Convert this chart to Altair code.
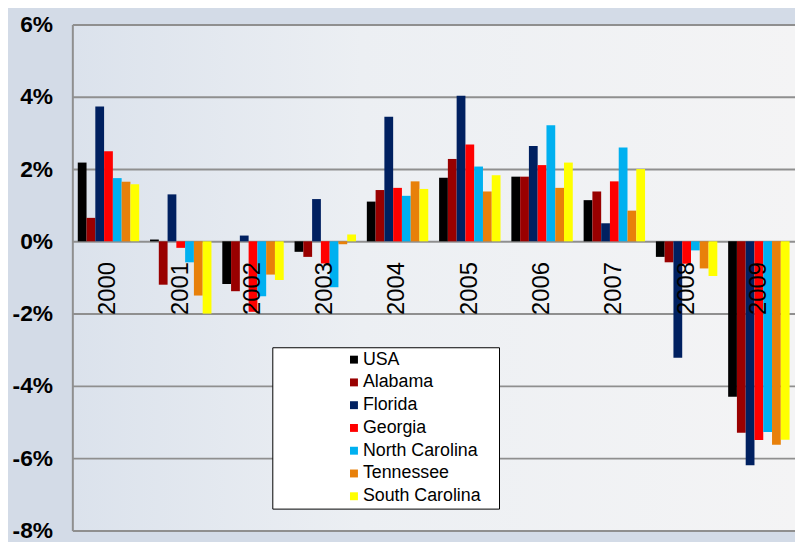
import altair as alt
import pandas as pd

years = ["2000", "2001", "2002", "2003", "2004", "2005", "2006", "2007", "2008", "2009"]
series = ["USA", "Alabama", "Florida", "Georgia", "North Carolina", "Tennessee", "South Carolina"]
colors = ["#000000", "#990000", "#002060", "#ff0000", "#00b0f0", "#e8800a", "#ffff00"]

usa = [2.18, 0.05, -1.18, -0.29, 1.10, 1.76, 1.79, 1.14, -0.43, -4.30]
alabama = [0.65, -1.20, -1.38, -0.43, 1.42, 2.28, 1.79, 1.38, -0.58, -5.30]
florida = [3.73, 1.30, 0.16, 1.17, 3.45, 4.03, 2.64, 0.50, -3.22, -6.20]
georgia = [2.49, -0.18, -1.95, -0.61, 1.48, 2.68, 2.11, 1.66, -0.62, -5.50]
north_carolina = [1.75, -0.58, -1.52, -1.27, 1.26, 2.07, 3.21, 2.60, -0.25, -5.28]
tennessee = [1.65, -1.50, -0.92, -0.08, 1.66, 1.38, 1.48, 0.85, -0.75, -5.63]
south_carolina = [1.58, -2.00, -1.07, 0.19, 1.45, 1.83, 2.18, 2.00, -0.96, -5.49]

y_ticks = [-8, -6, -4, -2, 0, 2, 4, 6]

values = [usa, alabama, florida, georgia, north_carolina, tennessee, south_carolina]
rows = []
for name, vals in zip(series, values):
    for yr, v in zip(years, vals):
        rows.append({"year": yr, "state": name, "value": v})
df = pd.DataFrame(rows)
labels_df = pd.DataFrame({"year": years, "zero": [0] * len(years)})

FONT = "Liberation Sans"

x_enc = alt.X("year:N", sort=years, axis=None,
              scale=alt.Scale(paddingInner=0.15, paddingOuter=0.075))
y_scale = alt.Scale(domain=[-8, 6], nice=False, zero=False)

bars = alt.Chart(df).mark_bar(stroke=None, strokeWidth=0).encode(
    x=x_enc,
    xOffset=alt.XOffset("state:N", sort=series, scale=alt.Scale(paddingInner=0, paddingOuter=0)),
    y=alt.Y("value:Q", scale=y_scale, title=None,
            axis=alt.Axis(values=y_ticks, labelExpr="datum.value + '%'",
                          labelFont=FONT, labelFontSize=23, labelFontWeight="bold",
                          labelColor="#000000", labelPadding=20, ticks=False,
                          domain=True, domainColor="#8f8f8f", domainWidth=2,
                          grid=True, gridColor="#8f8f8f", gridWidth=2)),
    color=alt.Color("state:N", sort=series,
                    scale=alt.Scale(domain=series, range=colors),
                    legend=alt.Legend(title="\u00a0", titleOrient="right", titlePadding=15,
                                      titleFontSize=18,
                                      orient="none", legendX=202, legendY=326,
                                      fillColor="#ffffff", strokeColor="#000000",
                                      padding=3.5, rowPadding=5, symbolType="square",
                                      symbolSize=64, symbolStrokeWidth=0,
                                      symbolOffset=70, labelOffset=0,
                                      labelFont=FONT, labelFontSize=18, labelColor="#000000")),
)

texts = alt.Chart(labels_df).mark_text(
    angle=270, align="right", baseline="middle", dx=-21,
    font=FONT, fontSize=24, color="#000000"
).encode(
    x=alt.X("year:N", sort=years, axis=None),
    y=alt.Y("zero:Q", scale=y_scale),
    text="year:N",
)

chart = alt.layer(bars, texts).properties(
    width=730, height=511,
    autosize=alt.AutoSizeParams(type="none"),
    padding={"left": 65, "top": 14, "right": 0, "bottom": 9},
    background="#d3dbe7",
).configure_view(
    fill={"expr": "{gradient: 'linear', x1: 0, y1: 0, x2: 1, y2: 0, stops: [{offset: 0, color: '#dbe2ec'}, {offset: 0.4, color: '#eceff3'}, {offset: 1, color: '#f4f4f5'}]}"},
    stroke=None,
)

chart.save("out.html", embed_options={"renderer": "svg", "actions": False})
